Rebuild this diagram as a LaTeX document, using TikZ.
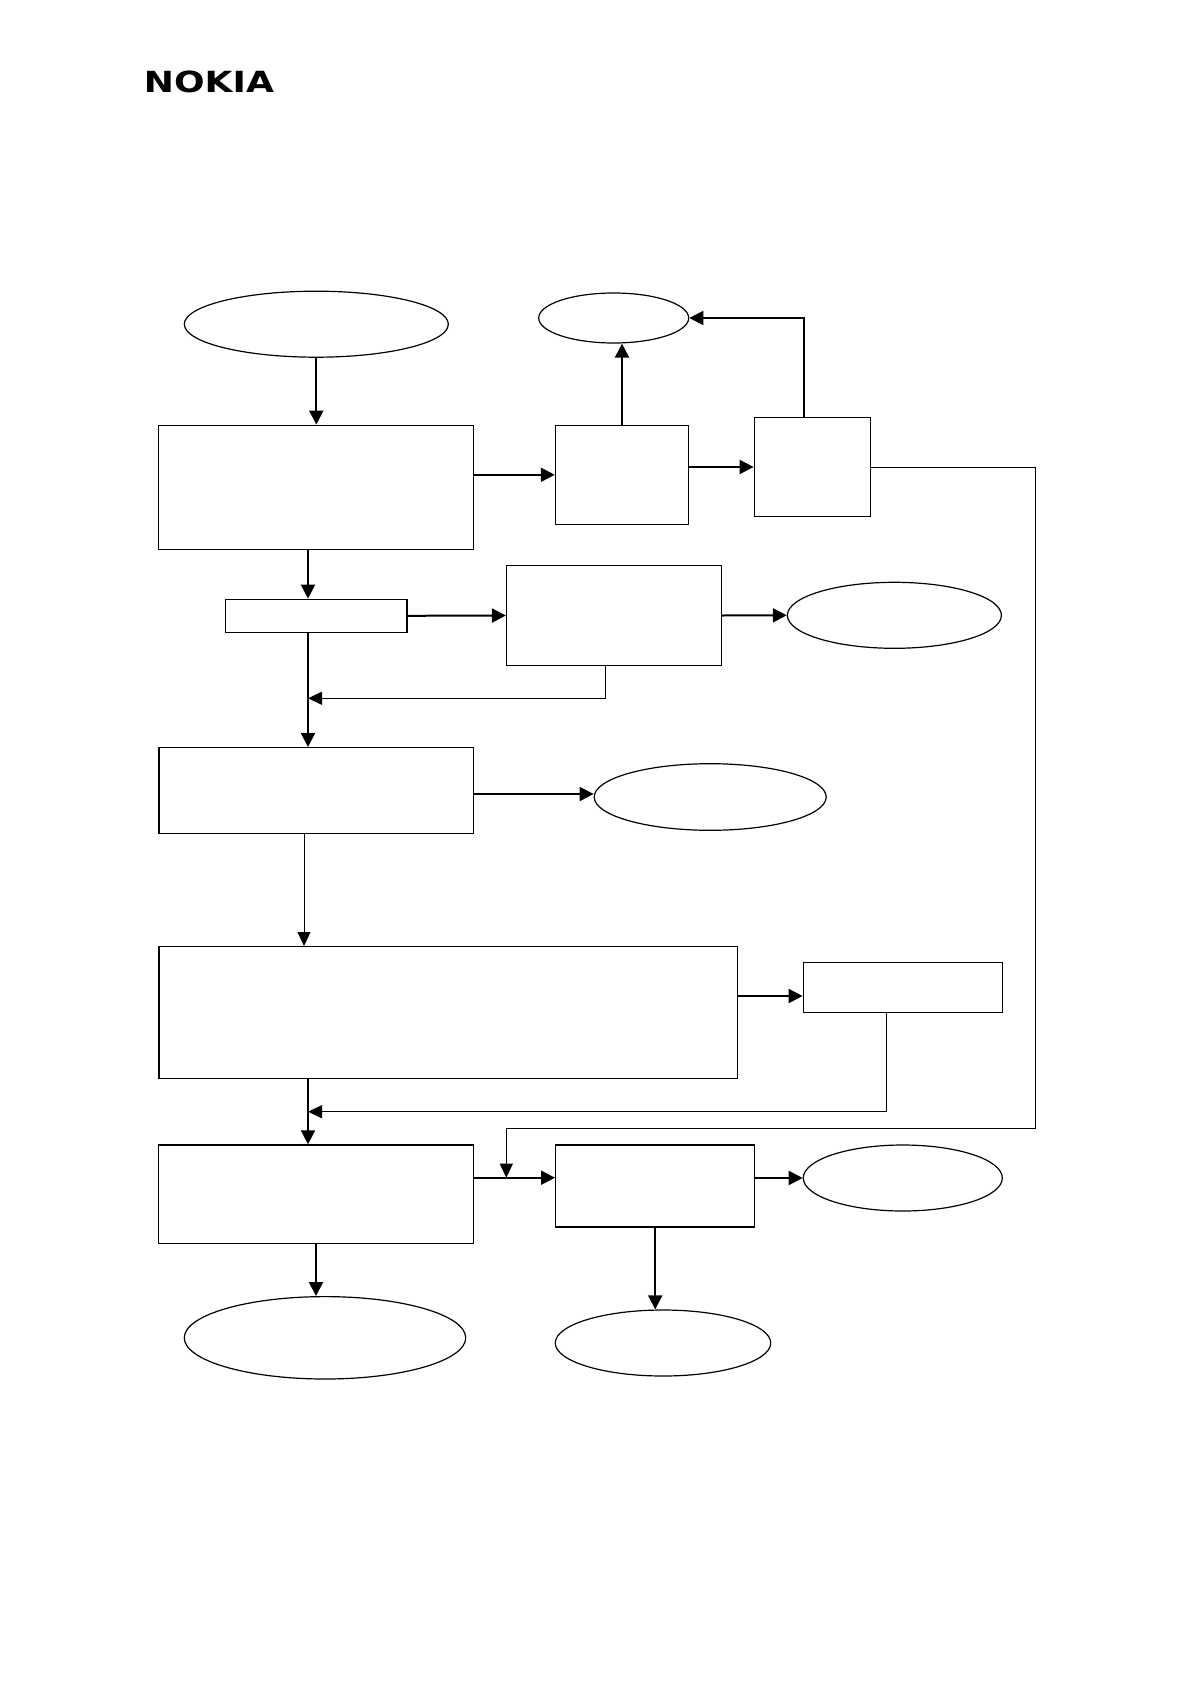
\documentclass[tikz,border=0pt]{standalone}
\usepackage{fontspec}
\usetikzlibrary{shapes.geometric,arrows.meta}
\newfontfamily\logofont{DejaVu Sans}
\tikzset{
  box/.style 2 args={draw,line width=0.7pt,inner sep=0pt,minimum width=#1,minimum height=#2},
  oval/.style 2 args={draw,ellipse,line width=0.6pt,inner sep=0pt,minimum width=#1,minimum height=#2},
  arr/.style={line width=1pt,-{Triangle[length=7pt,width=7pt]}},
  thinarr/.style={line width=0.5pt,-{Triangle[length=7pt,width=6.5pt]}}
}
\begin{document}
\begin{tikzpicture}[x=0.5pt,y=-0.5pt]
\useasboundingbox[fill=white] (0,0) rectangle (1191,1685);

\node[anchor=south west,inner sep=0pt] (logo) at (143.5,93.3) {\resizebox{65pt}{10.8pt}{\logofont\bfseries NOKIA}};

\node[oval={132pt}{33pt}] (start) at (316.3,324.2) {};
\node[oval={75pt}{25pt}] (top) at (613.7,318) {};
\node[oval={107pt}{33pt}] (outC) at (894.4,615.3) {};
\node[oval={116pt}{33.3pt}] (outD) at (710.2,797) {};
\node[oval={99.5pt}{33pt}] (outJ) at (902.8,1178) {};
\node[oval={140.7pt}{41.2pt}] (endH) at (325,1337.8) {};
\node[oval={107.7pt}{33pt}] (endJ) at (663,1343) {};

\node[box={157.3pt}{62pt}] (check) at (316,487.3) {};
\node[box={66.5pt}{49.5pt}] (testA) at (622,474.8) {};
\node[box={58pt}{49.7pt}] (testB) at (812.3,467) {};
\node[box={90.9pt}{16.5pt}] (small) at (316.2,615.8) {};
\node[box={107.3pt}{49.8pt}] (testC) at (613.9,615.5) {};
\node[box={157.4pt}{42.8pt}] (testD) at (316.2,790.5) {};
\node[box={289.4pt}{65.8pt}] (wide) at (448.3,1012.5) {};
\node[box={99.7pt}{24.8pt}] (fix) at (903,987.5) {};
\node[box={157.3pt}{49.2pt}] (testH) at (316,1194.2) {};
\node[box={99.5pt}{41pt}] (testJ) at (655.2,1186) {};

\coordinate (spine) at (308,0);
\coordinate (dropD) at (304,0);
\coordinate (upB) at (804,0);
\coordinate (fgY) at (0,996);
\coordinate (ddY) at (0,794);
\coordinate (backC) at (605.3,698.3);
\coordinate (backG) at (886.7,1111.7);
\coordinate (loopR) at (1035.6,1128.3);
\coordinate (joinHJ) at (506.3,1177.7);

\draw[arr] (start.south) -- (start.south |- check.north);
\draw[arr] (check.east |- testA.west) -- (testA.west);
\draw[arr] (testA.east |- testB.west) -- (testB.west);
\draw[arr] (testA.north) -- (testA.north |- top.south);
\draw[arr] (testB.north -| upB) |- (top.east);
\draw[thinarr] (testB.east) -| (loopR) -| (joinHJ);
\draw[arr] (check.south -| spine) -- (small.north -| spine);
\draw[arr] (small.east) -- (testC.west);
\draw[arr] (testC.east) -- (outC.west);
\draw[arr] (small.south -| spine) -- (testD.north -| spine);
\draw[thinarr] (testC.south -| backC) |- (spine |- backC);
\draw[arr] (testD.east |- ddY) -- (outD.west |- ddY);
\draw[thinarr] (testD.south -| dropD) -- (wide.north -| dropD);
\draw[arr] (wide.east |- fgY) -- (fix.west |- fgY);
\draw[thinarr] (fix.south -| backG) |- (spine |- backG);
\draw[arr] (wide.south -| spine) -- (testH.north -| spine);
\draw[arr] (testH.east |- joinHJ) -- (testJ.west |- joinHJ);
\draw[arr] (testJ.east |- outJ.west) -- (outJ.west);
\draw[arr] (testH.south) -- (testH.south |- endH.north);
\draw[arr] (testJ.south) -- (testJ.south |- endJ.north);
\end{tikzpicture}
\end{document}
